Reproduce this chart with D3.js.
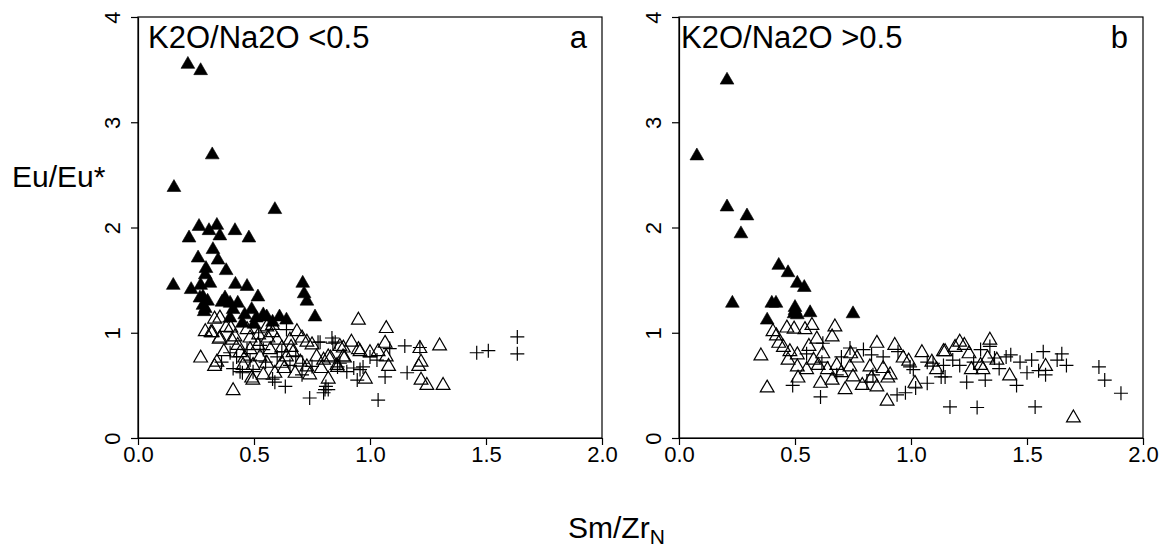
<!DOCTYPE html>
<html>
<head>
<meta charset="utf-8">
<script src="https://cdn.jsdelivr.net/npm/d3@7"></script>
<style>
  html, body { margin: 0; padding: 0; background: #fff; }
  svg { display: block; }
  text { font-family: "Liberation Sans", Arial, sans-serif; fill: #000; }
</style>
</head>
<body>
<svg id="chart" width="1160" height="548"></svg>
<script>
// ---- Data ----
const xTicks = [0, 0.5, 1.0, 1.5, 2.0];
const xTickLabels = ["0.0", "0.5", "1.0", "1.5", "2.0"];
const yTicks = [0, 1, 2, 3, 4];
const yTickLabels = ["0", "1", "2", "3", "4"];
const panelTitles = ["K2O/Na2O <0.5", "K2O/Na2O >0.5"];
const panelLetters = ["a", "b"];

// Panel a: filled triangles
const aFilled = [[0.215,3.55],[0.27,3.49],[0.32,2.69],[0.155,2.38],[0.59,2.17],[0.263,2.01],[0.34,2.02],[0.306,1.97],[0.418,1.97],[0.22,1.90],[0.353,1.92],[0.478,1.90],[0.323,1.79],[0.259,1.71],[0.345,1.69],[0.293,1.61],[0.38,1.59],[0.29,1.55],[0.152,1.45],[0.229,1.41],[0.27,1.45],[0.31,1.47],[0.42,1.46],[0.47,1.44],[0.71,1.47],[0.716,1.37],[0.28,1.34],[0.375,1.33],[0.517,1.34],[0.267,1.33],[0.28,1.26],[0.285,1.20],[0.362,1.29],[0.397,1.28],[0.43,1.28],[0.728,1.30],[0.41,1.22],[0.46,1.17],[0.49,1.22],[0.54,1.17],[0.61,1.15],[0.763,1.15],[0.397,1.14],[0.51,1.14],[0.555,1.15],[0.58,1.10],[0.45,1.09],[0.29,1.23],[0.30,1.30],[0.50,1.08],[0.64,1.12]];
// Panel a: open triangles
const aOpen = [[0.27,0.76],[0.29,1.01],[0.33,0.68],[0.34,0.72],[0.33,1.13],[0.35,0.94],[0.315,1.0],[0.41,0.45],[0.495,0.55],[0.95,1.12],[1.07,1.04],[1.065,0.90],[1.07,0.77],[1.08,0.68],[1.215,0.85],[1.30,0.875],[1.22,0.72],[1.21,0.68],[1.22,0.55],[1.245,0.50],[1.315,0.50],[0.92,0.91],[0.98,0.56],[1.0,0.81],[1.035,0.82],[0.95,0.84],[0.82,0.56],[0.885,0.855],[0.89,0.76],[0.83,0.76],[0.86,0.67],[0.87,0.87],[0.82,0.77],[0.353,1.14],[0.32,1.0],[0.353,0.95],[0.40,1.045],[0.418,0.96],[0.405,0.93],[0.47,1.03],[0.483,0.95],[0.555,1.055],[0.58,1.07],[0.685,1.01],[0.707,0.95],[0.728,0.91],[0.655,0.93],[0.62,0.855],[0.668,0.81],[0.77,0.77],[0.80,0.74],[0.728,0.675],[0.677,0.615],[0.59,0.615],[0.555,0.71],[0.526,0.77],[0.496,0.69],[0.49,0.57],[0.54,0.60],[0.453,0.69],[0.44,0.81],[0.483,0.84],[0.517,0.88],[0.60,0.93],[0.57,0.84],[0.64,0.77],[0.62,0.71],[0.58,1.0],[0.75,0.885],[0.74,0.60],[0.858,0.69],[0.884,0.77],[0.957,0.82],[0.38,1.05],[0.43,0.88],[0.46,0.76],[0.52,0.98],[0.63,0.66],[0.70,0.72],[0.37,0.82],[0.56,0.95],[0.66,0.86],[0.79,0.66]];
// Panel a: plus signs
const aPlus = [[1.635,0.96],[1.635,0.80],[1.51,0.83],[1.46,0.81],[1.035,0.36],[0.74,0.38],[0.80,0.43],[0.82,0.46],[0.635,0.49],[1.16,0.62],[1.065,0.58],[1.15,0.875],[1.215,0.86],[1.085,0.85],[0.945,0.55],[0.957,0.65],[0.90,0.63],[0.85,0.91],[0.776,0.91],[0.64,1.03],[1.03,0.74],[1.0,0.77],[0.397,0.81],[0.425,0.77],[0.44,0.63],[0.58,0.56],[0.707,0.60],[0.81,0.49],[0.86,0.675],[0.41,0.66],[0.45,0.62],[0.496,0.63],[0.59,0.53],[0.47,0.84],[0.54,0.84],[0.60,0.77],[0.655,0.69],[0.71,0.71],[0.526,0.88],[0.483,0.74],[0.836,0.95],[0.84,0.90],[0.97,0.675],[0.806,0.46],[0.93,0.665],[0.87,0.71],[0.785,0.91],[0.55,0.72],[0.62,0.82],[0.68,0.78],[0.75,0.68],[0.36,0.72],[0.52,1.0]];

// Panel b: filled triangles
const bFilled = [[0.077,2.68],[0.207,3.40],[0.207,2.195],[0.293,2.11],[0.267,1.94],[0.43,1.64],[0.47,1.57],[0.51,1.47],[0.54,1.43],[0.23,1.28],[0.40,1.28],[0.418,1.28],[0.38,1.12],[0.50,1.24],[0.496,1.18],[0.51,1.17],[0.565,1.19],[0.75,1.18],[0.50,1.21]];
// Panel b: open triangles
const bOpen = [[0.353,0.78],[0.38,0.475],[0.405,1.01],[0.42,0.97],[0.465,1.045],[0.496,1.035],[0.543,1.03],[0.573,1.07],[0.672,1.055],[0.66,0.96],[0.594,0.94],[0.853,0.90],[0.93,0.88],[0.897,0.35],[1.047,0.81],[1.14,0.82],[1.21,0.91],[1.34,0.93],[1.425,0.59],[1.58,0.68],[1.70,0.19],[0.716,0.46],[0.61,0.52],[0.66,0.55],[0.79,0.50],[0.853,0.485],[0.90,0.57],[1.017,0.52],[0.966,0.76],[1.11,0.65],[1.31,0.65],[1.30,0.69],[0.513,0.57],[0.51,0.79],[0.478,0.82],[0.47,0.74],[0.51,0.675],[0.55,0.65],[0.60,0.69],[0.64,0.65],[0.68,0.69],[0.737,0.675],[0.767,0.76],[0.823,0.675],[0.88,0.66],[0.91,0.60],[1.09,0.72],[1.147,0.82],[1.23,0.88],[1.26,0.65],[1.33,0.76],[1.37,0.74],[0.45,0.86],[0.43,0.90],[0.56,0.87],[0.62,0.80],[0.70,0.62],[0.75,0.58],[0.58,0.74],[1.19,0.86],[1.25,0.80],[0.99,0.73],[0.83,0.57],[0.74,0.80]];
// Panel b: plus signs
const bPlus = [[1.168,0.295],[1.285,0.29],[1.535,0.295],[1.81,0.675],[1.835,0.55],[1.905,0.425],[1.57,0.82],[1.65,0.80],[1.67,0.69],[1.63,0.74],[1.58,0.60],[1.52,0.74],[1.47,0.72],[1.50,0.62],[1.455,0.50],[1.41,0.77],[1.38,0.66],[1.32,0.55],[1.24,0.53],[1.30,0.84],[1.34,0.87],[1.36,0.76],[1.43,0.79],[1.01,0.65],[0.976,0.43],[1.07,0.52],[1.147,0.58],[1.21,0.69],[1.095,0.71],[1.18,0.74],[0.61,0.39],[0.94,0.41],[1.02,0.475],[1.13,0.58],[0.81,0.53],[0.49,0.50],[0.62,0.90],[0.737,0.855],[0.795,0.84],[0.616,0.72],[0.70,0.77],[0.83,0.79],[0.88,0.77],[0.996,0.675],[1.07,0.72],[1.14,0.69],[0.944,0.82],[0.836,0.60],[0.68,0.60],[1.55,0.64],[1.27,0.72],[0.55,0.80]];

// ---- Drawing ----
const svg = d3.select("#chart");
const FONT_TICK = 22;

const panels = [
  { x0: 138, x1: 602, filled: aFilled, open: aOpen, plus: aPlus, title: panelTitles[0], letter: panelLetters[0], titleX: 148 },
  { x0: 679, x1: 1143, filled: bFilled, open: bOpen, plus: bPlus, title: panelTitles[1], letter: panelLetters[1], titleX: 681 }
];
const yTop = 17, yBot = 438;

// R-style triangle (centroid centered) and plus
const r0 = 5.1;
const triPath = `M0,${-1.555*r0}L${1.347*r0},${0.778*r0}L${-1.347*r0},${0.778*r0}Z`;
const pl = 7.0;
const plusPath = `M${-pl},0H${pl}M0,${-pl}V${pl}`;

panels.forEach(p => {
  const x = d3.scaleLinear().domain([0, 2]).range([p.x0, p.x1]);
  const y = d3.scaleLinear().domain([0, 4]).range([yBot, yTop]);
  const g = svg.append("g");

  // x axis
  const xa = g.append("g").attr("transform", `translate(0,${yBot})`)
    .call(d3.axisBottom(x).tickValues(xTicks).tickFormat((d, i) => xTickLabels[i])
      .tickSizeInner(7).tickSizeOuter(0).tickPadding(1));
  xa.attr("font-family", null).attr("font-size", FONT_TICK);
  xa.selectAll("text").attr("font-size", FONT_TICK).style("font-size", FONT_TICK + "px");
  xa.selectAll("line,path").attr("stroke", "#000").attr("stroke-width", 1.2);

  // y axis (labels rotated like R)
  const ya = g.append("g").attr("transform", `translate(${p.x0},0)`)
    .call(d3.axisLeft(y).tickValues(yTicks).tickFormat((d, i) => yTickLabels[i])
      .tickSizeInner(7).tickSizeOuter(0));
  ya.attr("font-family", null).attr("font-size", FONT_TICK);
  ya.selectAll("line,path").attr("stroke", "#000").attr("stroke-width", 1.2);
  ya.selectAll("text").remove();
  ya.selectAll(".tick").append("text")
    .attr("transform", "translate(-18,0) rotate(-90)")
    .attr("text-anchor", "middle")
    .attr("dy", 0)
    .style("font-size", FONT_TICK + "px")
    .attr("fill", "#000")
    .text((d, i) => yTickLabels[i]);

  // box
  g.append("rect").attr("x", p.x0).attr("y", yTop)
    .attr("width", p.x1 - p.x0).attr("height", yBot - yTop)
    .attr("fill", "none").attr("stroke", "#000").attr("stroke-width", 1.2);

  // points
  g.append("g").selectAll("path").data(p.filled).join("path")
    .attr("d", triPath)
    .attr("transform", d => `translate(${x(d[0])},${y(d[1])})`)
    .attr("fill", "#000").attr("stroke", "#000").attr("stroke-width", 0.6);
  g.append("g").selectAll("path").data(p.open).join("path")
    .attr("d", triPath)
    .attr("transform", d => `translate(${x(d[0])},${y(d[1])})`)
    .attr("fill", "none").attr("stroke", "#000").attr("stroke-width", 1.2);
  g.append("g").selectAll("path").data(p.plus).join("path")
    .attr("d", plusPath)
    .attr("transform", d => `translate(${x(d[0])},${y(d[1])})`)
    .attr("fill", "none").attr("stroke", "#000").attr("stroke-width", 1.2);

  // panel title and letter
  g.append("text").attr("x", p.titleX).attr("y", 48)
    .style("font-size", "31px").text(p.title);
  g.append("text").attr("x", p.x1 - 15).attr("y", 48)
    .attr("text-anchor", "end").style("font-size", "31px").text(p.letter);
});

// axis titles
svg.append("text").attr("x", 12).attr("y", 187).style("font-size", "30px").text("Eu/Eu*");
const xt = svg.append("text").attr("x", 568).attr("y", 538).style("font-size", "30px");
xt.append("tspan").text("Sm/Zr");
xt.append("tspan").attr("dy", 6).style("font-size", "21px").text("N");
</script>
</body>
</html>
